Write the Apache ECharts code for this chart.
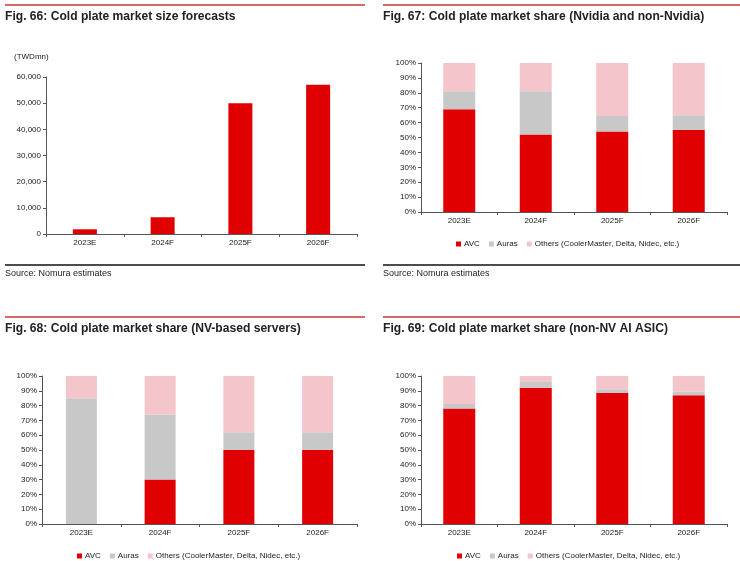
<!DOCTYPE html>
<html>
<head>
<meta charset="utf-8">
<script src="https://cdn.jsdelivr.net/npm/echarts@6/dist/echarts.min.js"></script>
<style>
html,body{margin:0;padding:0;background:#fff;}
#c{width:740px;height:561px;}
</style>
</head>
<body>
<div id="c"></div>
<script>
// ---- data ----
var years = ['2023E', '2024F', '2025F', '2026F'];
var marketSize = [1800, 6400, 50000, 57000];            // TWDmn
var seriesNames = ['AVC', 'Auras', 'Others (CoolerMaster, Delta, Nidec, etc.)'];
// Fig. 67 (Nvidia and non-Nvidia)
var f67AVC = [69, 52, 54, 55];
var f67Auras = [12, 29, 10.5, 10];
var f67Others = [19, 19, 35.5, 35];
// Fig. 68 (NV-based servers)
var f68AVC = [0, 30, 50, 50];
var f68Auras = [85, 44, 12, 12];
var f68Others = [15, 26, 38, 38];
// Fig. 69 (non-NV AI ASIC)
var f69AVC = [78, 92, 88.5, 87];
var f69Auras = [3, 4, 2.5, 2.5];
var f69Others = [19, 4, 9, 10.5];
var titles = [
  'Fig. 66: Cold plate market size forecasts',
  'Fig. 67: Cold plate market share (Nvidia and non-Nvidia)',
  'Fig. 68: Cold plate market share (NV-based servers)',
  'Fig. 69: Cold plate market share (non-NV AI ASIC)'
];
var sourceText = 'Source: Nomura estimates';
var unitLabel = '(TWDmn)';

// ---- styles ----
var RED = '#E00000', GRAY = '#C8C8C8', PINK = '#F4C6CB';
var FONT = 'Liberation Sans, Arial, sans-serif';
var AXC = '#555';
var chart = echarts.init(document.getElementById('c'), null, {renderer: 'canvas'});

var grids = [
  {left: 46, top: 77, width: 311, height: 157},
  {left: 421, top: 63, width: 306, height: 149},
  {left: 42, top: 376, width: 315, height: 148},
  {left: 421, top: 376, width: 306, height: 148}
];
var barW = [24, 32, 31, 32];

function xAx(i) {
  return {
    type: 'category', gridIndex: i, data: years,
    axisLine: {lineStyle: {color: AXC, width: 1}},
    axisTick: {show: true, length: 3, lineStyle: {color: AXC}},
    axisLabel: {color: '#222', fontSize: 8, fontFamily: FONT, margin: 5}
  };
}
function yAx(i, pct) {
  var o = {
    type: 'value', gridIndex: i, min: 0,
    splitLine: {show: false},
    axisLine: {show: true, lineStyle: {color: AXC, width: 1}},
    axisTick: {show: true, length: 3, lineStyle: {color: AXC}},
    axisLabel: {color: '#222', fontSize: 8, fontFamily: FONT, margin: 5}
  };
  if (pct) {
    o.max = 100; o.interval = 10;
    o.axisLabel.formatter = function (v) { return v + '%'; };
  } else {
    o.max = 60000; o.interval = 10000;
    o.axisLabel.formatter = function (v) { return v.toLocaleString('en-US'); };
  }
  return o;
}

var series = [{
  type: 'bar', xAxisIndex: 0, yAxisIndex: 0, data: marketSize,
  barWidth: barW[0], itemStyle: {color: RED}, silent: true
}];
var shareSets = [[f67AVC, f67Auras, f67Others], [f68AVC, f68Auras, f68Others], [f69AVC, f69Auras, f69Others]];
var cols = [RED, GRAY, PINK];
shareSets.forEach(function (set, k) {
  var gi = k + 1;
  set.forEach(function (arr, j) {
    series.push({
      type: 'bar', name: seriesNames[j], xAxisIndex: gi, yAxisIndex: gi,
      stack: 's' + gi, data: arr, barWidth: barW[gi],
      itemStyle: {color: cols[j]}, silent: true
    });
  });
});

function legendAt(left, top) {
  return {
    left: left, top: top, itemWidth: 5, itemHeight: 5, itemGap: 9,
    icon: 'rect', selectedMode: false,
    textStyle: {fontSize: 8, fontFamily: FONT, color: '#222', padding: [0, 0, 0, -2]},
    data: seriesNames
  };
}

var g = [];
function addPanel(x0, x1, yTop, title) {
  g.push({type: 'line', shape: {x1: x0, y1: yTop, x2: x1, y2: yTop}, style: {stroke: '#C8343A', lineWidth: 1.5}});
  g.push({type: 'text', left: x0, top: yTop + 6, style: {text: title, font: 'bold 12.1px ' + FONT, fill: '#222'}});
}
addPanel(5, 365, 5, titles[0]);
addPanel(383, 740, 5, titles[1]);
addPanel(5, 365, 317, titles[2]);
addPanel(383, 740, 317, titles[3]);
// bottom rules + source
g.push({type: 'line', shape: {x1: 5, y1: 265, x2: 365, y2: 265}, style: {stroke: '#111', lineWidth: 1.5}});
g.push({type: 'line', shape: {x1: 383, y1: 265, x2: 740, y2: 265}, style: {stroke: '#111', lineWidth: 1.5}});
g.push({type: 'text', left: 5, top: 269, style: {text: sourceText, font: '9px ' + FONT, fill: '#222'}});
g.push({type: 'text', left: 383, top: 269, style: {text: sourceText, font: '9px ' + FONT, fill: '#222'}});
g.push({type: 'text', left: 14, top: 53, style: {text: unitLabel, font: '8px ' + FONT, fill: '#222'}});

chart.setOption({
  animation: false,
  grid: grids,
  xAxis: [xAx(0), xAx(1), xAx(2), xAx(3)],
  yAxis: [yAx(0, false), yAx(1, true), yAx(2, true), yAx(3, true)],
  legend: [
    legendAt(451, 235),
    legendAt(72, 547),
    legendAt(452, 547)
  ].map(function (l, i) { l.id = 'lg' + i; return l; }),
  series: series,
  graphic: g
});
</script>
</body>
</html>
